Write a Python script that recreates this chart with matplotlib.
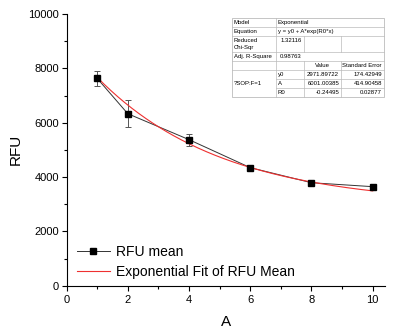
import matplotlib.pyplot as plt
import numpy as np
from matplotlib.lines import Line2D

plt.rcParams['font.family'] = ['Liberation Sans', 'DejaVu Sans']

# data
conc = [1, 2, 4, 6, 8, 10]
rfu_mean = [7630, 6330, 5375, 4345, 3790, 3645]
rfu_err = [285, 495, 220, 50, 40, 40]

# exponential fit parameters
y0 = 2971.89722
A = 6001.00385
R0 = -0.24495

fig = plt.figure(figsize=(4.01, 3.33), dpi=100)
ax = fig.add_axes([0.166, 0.142, 0.794, 0.816])

ax.errorbar(conc, rfu_mean, yerr=rfu_err, fmt='none', ecolor='#555555',
            elinewidth=0.7, capsize=2.5, capthick=0.7, zorder=2)
ax.plot(conc, rfu_mean, '-', color='#333333', linewidth=0.7, zorder=3)
ax.plot(conc, rfu_mean, 's', color='black', markersize=5, zorder=4)
xf = np.linspace(1, 10, 200)
ax.plot(xf, y0 + A * np.exp(R0 * xf), '-', color='#ee3030', linewidth=0.8, zorder=3)

ax.set_xlim(0, 10.4)
ax.set_ylim(0, 10000)
ax.set_xticks([0, 2, 4, 6, 8, 10])
ax.set_xticks([1, 3, 5, 7, 9], minor=True)
ax.set_yticks([0, 2000, 4000, 6000, 8000, 10000])
ax.set_yticks([1000, 3000, 5000, 7000, 9000], minor=True)
ax.tick_params(which='major', length=3.5, width=0.8, labelsize=8, pad=2)
ax.tick_params(axis='x', which='major', pad=3.5)
ax.tick_params(which='minor', length=2, width=0.8)
for s in ['top', 'right']:
    ax.spines[s].set_visible(False)
ax.set_xlabel('A', fontsize=11, labelpad=7)
ax.set_ylabel('RFU', fontsize=11, labelpad=4)

handles = [
    Line2D([], [], color='#333333', linewidth=0.7, marker='s', markersize=5,
           markerfacecolor='black', markeredgecolor='black'),
    Line2D([], [], color='#ee3030', linewidth=0.8),
]
ax.legend(handles, ['RFU mean', 'Exponential Fit of RFU Mean'], loc='lower left',
          bbox_to_anchor=(0.032, 0.025), frameon=False, fontsize=10,
          handlelength=2.4, handletextpad=0.4, labelspacing=0.45, borderpad=0,
          borderaxespad=0)

# fit report table (pixel layout -> figure coords)
W, H = 401, 333
def fx(x):
    return x / W
def fy(y):
    return 1 - y / H

cx = [232, 276, 304, 341, 384]
ry = [18, 27, 36, 52, 61, 70, 79, 88, 97]
lc = '#bbbbbb'
fig.patches.append(plt.Rectangle((fx(232), fy(97)), fx(384) - fx(232), fy(18) - fy(97),
                                 transform=fig.transFigure, facecolor='white',
                                 edgecolor=lc, linewidth=0.6, zorder=5))

def hline(y, x1, x2):
    fig.add_artist(Line2D([fx(x1), fx(x2)], [fy(y), fy(y)], color=lc, linewidth=0.5, zorder=6))

def vline(x, y1, y2):
    fig.add_artist(Line2D([fx(x), fx(x)], [fy(y1), fy(y2)], color=lc, linewidth=0.5, zorder=6))

for y in ry[1:6]:
    hline(y, cx[0], cx[4])
for y in ry[6:8]:
    hline(y, cx[1], cx[4])
vline(cx[1], ry[0], ry[8])
vline(cx[2], ry[2], ry[3])
vline(cx[3], ry[2], ry[3])
vline(cx[2], ry[4], ry[8])
vline(cx[3], ry[4], ry[8])

fs = 4.3
def txt(x, y, s, ha='left'):
    fig.text(fx(x), fy(y), s, fontsize=fs, ha=ha, va='center', zorder=7)

txt(234, 22.5, 'Model')
txt(278, 22.5, 'Exponential')
txt(234, 31.5, 'Equation')
txt(278, 31.5, 'y = y0 + A*exp(R0*x)')
txt(234, 41, 'Reduced')
txt(234, 47, 'Chi-Sqr')
txt(302, 40.5, '1.32116', ha='right')
txt(234, 56.5, 'Adj. R-Square')
txt(302, 56.5, '0.98763', ha='right')
txt(322, 65.5, 'Value', ha='center')
txt(362, 65.5, 'Standard Error', ha='center')
txt(234, 83.5, '?SOP:F=1')
params = [('y0', '2971.89722', '174.42949'),
          ('A', '6001.00385', '414.90458'),
          ('R0', '-0.24495', '0.02877')]
for i, (n, v, e) in enumerate(params):
    yy = 74.5 + 9 * i
    txt(278, yy, n)
    txt(339, yy, v, ha='right')
    txt(382, yy, e, ha='right')

fig.savefig('out.png', dpi=100)
